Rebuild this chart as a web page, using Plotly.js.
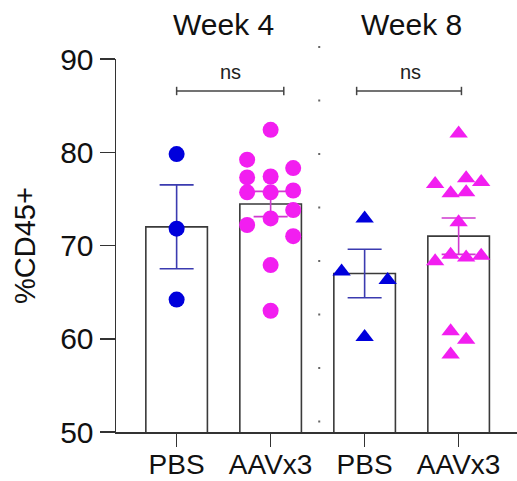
<!DOCTYPE html>
<html>
<head>
<meta charset="utf-8">
<script src="https://cdn.plot.ly/plotly-3.0.1.min.js"></script>
<style>html,body{margin:0;padding:0;background:#fff;}#chart{width:517px;height:481px;}</style>
</head>
<body>
<div id="chart"></div>
<script>
// ---- data ----
var categories = ["PBS", "AAVx3", "PBS", "AAVx3"];
var groupIndex = [0, 1, 2, 3];
var barMeans = [72.0, 74.45, 67.0, 71.0];
var barSEM = [4.5, 1.35, 2.6, 1.95];

var w4PbsValues = [79.8, 71.8, 64.2];
var w4PbsJitter = [0, 0, 0];

var w4AavValues = [82.4, 79.2, 78.3, 77.3, 77.4, 75.7, 75.7, 75.9, 73.8, 72.9, 72.2, 71.0, 67.9, 63.0];
var w4AavJitter = [0, -0.25, 0.24, -0.25, 0, -0.25, 0, 0.24, 0.24, 0, -0.25, 0.24, 0, 0];

var w8PbsValues = [72.9, 67.2, 66.3, 60.2];
var w8PbsJitter = [0, -0.245, 0.245, 0];

var w8AavValues = [82.0, 76.6, 77.2, 76.8, 75.6, 75.7, 72.5, 68.3, 69.0, 68.7, 68.9, 60.8, 59.9, 58.3];
var w8AavJitter = [0, -0.25, 0.08, 0.24, -0.085, 0.08, 0, -0.25, -0.085, 0.08, 0.24, -0.085, 0.08, -0.085];

var weekLabels = ["Week 4", "Week 8"];
var sigLabels = ["ns", "ns"];

// ---- styling ----
var FONT = "Liberation Sans, Arial, Helvetica, sans-serif";
var BLUE = "#0000dc";
var MAGENTA = "#f21ef0";
var AXIS = "#333333";

function shift(idx, jit) { return jit.map(function (j) { return groupIndex[idx] + j; }); }

var traces = [];

// bars
traces.push({
  type: "bar",
  x: groupIndex,
  y: barMeans,
  width: 0.655,
  marker: { color: "#ffffff", line: { color: "#3a3a3a", width: 1.6 } },
  hoverinfo: "skip",
  showlegend: false
});

// error bars (PBS blue, AAV magenta)
var errColors = ["#3b3bb0", "#cf3acf", "#3b3bb0", "#cf3acf"];
groupIndex.forEach(function (g, i) {
  traces.push({
    type: "scatter",
    mode: "markers",
    x: [g],
    y: [barMeans[i]],
    marker: { size: 1, opacity: 0 },
    error_y: { type: "data", array: [barSEM[i]], visible: true, color: errColors[i], thickness: 1.6, width: 17 },
    hoverinfo: "skip",
    showlegend: false
  });
});

// points
traces.push({
  type: "scatter", mode: "markers",
  x: shift(0, w4PbsJitter), y: w4PbsValues,
  marker: { color: BLUE, size: 16, symbol: "circle", line: { width: 0 } },
  cliponaxis: false, showlegend: false
});
traces.push({
  type: "scatter", mode: "markers",
  x: shift(1, w4AavJitter), y: w4AavValues,
  marker: { color: MAGENTA, size: 16, symbol: "circle", line: { width: 0 } },
  cliponaxis: false, showlegend: false
});
traces.push({
  type: "scatter", mode: "markers",
  x: shift(2, w8PbsJitter), y: w8PbsValues,
  marker: { color: BLUE, size: 16, symbol: "triangle-up", line: { width: 0 } },
  cliponaxis: false, showlegend: false
});
traces.push({
  type: "scatter", mode: "markers",
  x: shift(3, w8AavJitter), y: w8AavValues,
  marker: { color: MAGENTA, size: 16, symbol: "triangle-up", line: { width: 0 } },
  cliponaxis: false, showlegend: false
});

// significance brackets
var bracketY = 86.57, capH = 0.45;
var brackets = [[0, 1.14], [1.915, 3.03]];
var shapes = [];
brackets.forEach(function (b) {
  shapes.push({ type: "line", xref: "x", yref: "y", x0: b[0], x1: b[1], y0: bracketY, y1: bracketY, line: { color: "#444", width: 1.5 } });
  shapes.push({ type: "line", xref: "x", yref: "y", x0: b[0], x1: b[0], y0: bracketY - capH, y1: bracketY + capH, line: { color: "#444", width: 1.5 } });
  shapes.push({ type: "line", xref: "x", yref: "y", x0: b[1], x1: b[1], y0: bracketY - capH, y1: bracketY + capH, line: { color: "#444", width: 1.5 } });
});
// dotted separator
shapes.push({ type: "line", xref: "x", yref: "paper", x0: 1.517, x1: 1.517, y0: 0.0257, y1: 1.04,
  line: { color: "#666", width: 2, dash: "2px,51.5px" } });

var annotations = [
  { text: weekLabels[0], x: 0.5, xref: "x", y: 1.093, yref: "paper", xanchor: "center", yanchor: "middle", showarrow: false, font: { family: FONT, size: 30, color: "#111" } },
  { text: weekLabels[1], x: 2.5, xref: "x", y: 1.093, yref: "paper", xanchor: "center", yanchor: "middle", showarrow: false, font: { family: FONT, size: 30, color: "#111" } },
  { text: sigLabels[0], x: 0.575, xref: "x", y: 88.6, yref: "y", xanchor: "center", yanchor: "middle", showarrow: false, font: { family: FONT, size: 20, color: "#222" } },
  { text: sigLabels[1], x: 2.49, xref: "x", y: 88.6, yref: "y", xanchor: "center", yanchor: "middle", showarrow: false, font: { family: FONT, size: 20, color: "#222" } }
];

var layout = {
  width: 517, height: 481,
  margin: { l: 116, r: 0, t: 59, b: 49, pad: 0 },
  paper_bgcolor: "#fff", plot_bgcolor: "#fff",
  font: { family: FONT, color: "#111" },
  showlegend: false,
  xaxis: {
    range: [-0.645, 3.621],
    tickmode: "array", tickvals: groupIndex, ticktext: categories,
    showline: true, linecolor: AXIS, linewidth: 1.5,
    ticks: "outside", ticklen: 13, tickwidth: 1.5, tickcolor: AXIS,
    ticklabelstandoff: -6,
    tickfont: { family: FONT, size: 28, color: "#111" },
    showgrid: false, zeroline: false, fixedrange: true
  },
  yaxis: {
    range: [50, 90],
    tickmode: "array", tickvals: [50, 60, 70, 80, 90],
    showline: true, linecolor: AXIS, linewidth: 1.5,
    ticks: "outside", ticklen: 15, tickwidth: 1.5, tickcolor: AXIS,
    tickfont: { family: FONT, size: 30, color: "#111" },
    showgrid: false, zeroline: false, fixedrange: true,
    title: { text: "%CD45+", font: { family: FONT, size: 29, color: "#111" }, standoff: 16 }
  },
  shapes: shapes,
  annotations: annotations,
  bargap: 0
};

Plotly.newPlot("chart", traces, layout, { displayModeBar: false, staticPlot: true });
</script>
</body>
</html>
